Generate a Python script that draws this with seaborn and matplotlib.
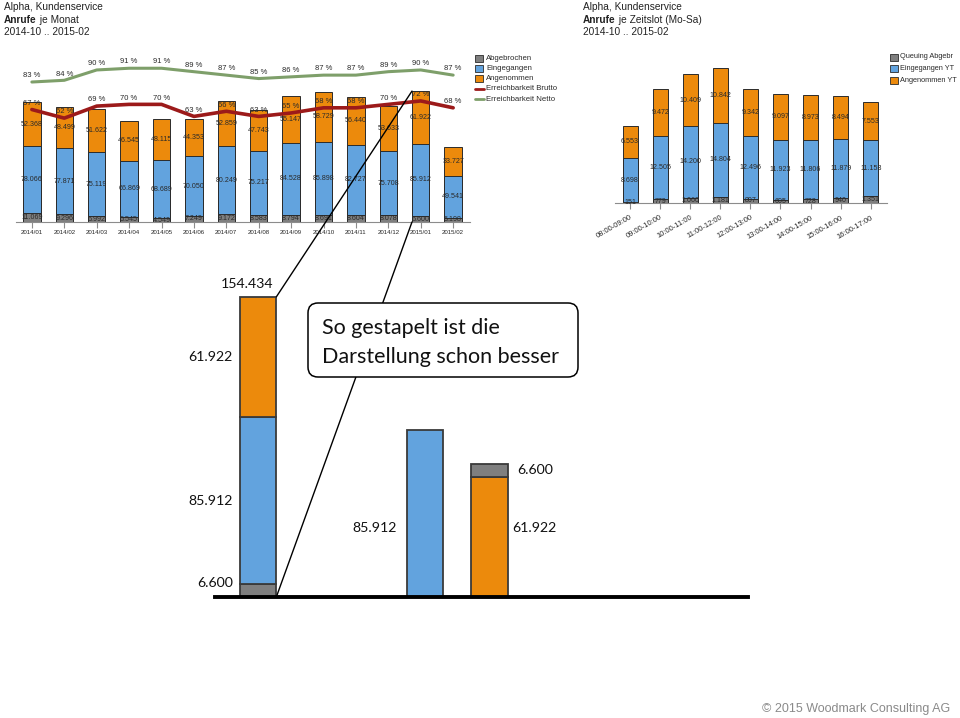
import numpy as np
import pandas as pd
import matplotlib
matplotlib.use("Agg")
from matplotlib import pyplot as plt
from matplotlib.patches import FancyBboxPatch, ConnectionPatch, Rectangle
from matplotlib.lines import Line2D
import seaborn as sns

# Anrufe je Monat (Werte in Tausend)
monate = ['2014/01', '2014/02', '2014/03', '2014/04', '2014/05', '2014/06', '2014/07',
          '2014/08', '2014/09', '2014/10', '2014/11', '2014/12', '2015/01', '2015/02']
abgebrochen = [11.069, 9.296, 6.992, 5.545, 4.549, 7.249, 9.172,
               8.583, 8.794, 8.691, 8.604, 8.078, 6.600, 5.198]
eingegangen = [78.066, 77.871, 75.119, 66.869, 68.689, 70.050, 80.249,
               75.217, 84.528, 85.898, 82.727, 75.708, 85.912, 49.541]
angenommen = [52.368, 48.499, 51.622, 46.545, 48.115, 44.353, 52.859,
              47.743, 55.147, 58.729, 56.440, 53.633, 61.922, 33.727]
brutto = [67, 62, 69, 70, 70, 63, 66, 63, 65, 68, 68, 70, 72, 68]
netto = [83, 84, 90, 91, 91, 89, 87, 85, 86, 87, 87, 89, 90, 87]

# Anrufe je Zeitslot (Mo-Sa)
zeitslots = ['08:00-09:00', '09:00-10:00', '10:00-11:00', '11:00-12:00', '12:00-13:00',
             '13:00-14:00', '14:00-15:00', '15:00-16:00', '16:00-17:00']
queuing = [0.151, 0.779, 1.060, 1.181, 0.807, 0.695, 0.728, 0.940, 1.351]
eingegangen_ytd = [8.698, 12.505, 14.200, 14.804, 12.496, 11.923, 11.806, 11.879, 11.153]
angenommen_ytd = [6.553, 9.472, 10.409, 10.842, 9.342, 9.097, 8.973, 8.494, 7.553]

detail_monat = '2015/01'

ORANGE = '#EC8A0C'
BLUE = '#62A3DE'
GRAY = '#7F7F7F'
EDGE = '#2B2B2B'
RED = '#9C1A1A'
GREEN = '#7E9F6A'
TXT = '#2A2A2A'

sns.set_style('white')
plt.rcParams['font.family'] = ['Liberation Sans', 'DejaVu Sans']

W, H = 960, 718
fig = plt.figure(figsize=(W / 100, H / 100), dpi=100)


def px_box(left, top, right, bottom):
    return [left / W, 1 - bottom / H, (right - left) / W, (bottom - top) / H]


def fmt(v):
    return f'{round(v * 1000):,}'.replace(',', '.')


def stacked(ax, cats, layers, colors, width):
    df = pd.DataFrame({'cat': cats})
    cum = np.cumsum(np.array(layers), axis=0)
    for i in range(len(layers) - 1, -1, -1):
        df['v'] = cum[i]
        sns.barplot(data=df, x='cat', y='v', color=colors[i], width=width,
                    saturation=1, edgecolor=EDGE, linewidth=0.7, errorbar=None, ax=ax)
    for i, layer in enumerate(layers):
        for j, v in enumerate(layer):
            ax.text(j, cum[i][j] - v / 2, fmt(v), ha='center', va='center',
                    fontsize=5.1, color=TXT)
    ax.set(xlabel='', ylabel='')
    sns.despine(ax=ax, left=True)
    ax.set_yticks([])
    ax.spines['bottom'].set_color('#8C8C8C')
    ax.tick_params(axis='x', bottom=True, length=4, color='#8C8C8C', pad=2)
    return cum


# overlay in pixel coordinates for titles, legends, callout
ov = fig.add_axes([0, 0, 1, 1], zorder=5)
ov.set_xlim(0, W)
ov.set_ylim(H, 0)
ov.axis('off')


def titles(x, second):
    ov.text(x, 7, 'Alpha, Kundenservice', fontsize=7.3, va='center', color='#222222')
    t = ov.text(x, 20, 'Anrufe', fontsize=7.3, va='center', weight='bold', color='#222222')
    ov.annotate(' ' + second, xy=(1, 0.5), xycoords=t, fontsize=7.3, va='center',
                color='#222222')
    ov.text(x, 32, '2014-10 .. 2015-02', fontsize=7.3, va='center', color='#222222')


# ---- top left: Anrufe je Monat ----
ax1 = fig.add_axes(px_box(16, 55, 470, 222))
cum1 = stacked(ax1, monate, [abgebrochen, eingegangen, angenommen], [GRAY, BLUE, ORANGE], 0.54)
ax1.set_ylim(0, 197)
ax1.tick_params(axis='x', labelsize=4.4)

ax2 = ax1.twinx()
xs = np.arange(len(monate))
sns.lineplot(x=xs, y=netto, color=GREEN, lw=2.2, ax=ax2)
sns.lineplot(x=xs, y=brutto, color=RED, lw=2.6, ax=ax2)
for series in (netto, brutto):
    for x, p in zip(xs, series):
        ax2.annotate(f'{p} %', (x, p), xytext=(0, 4.5), textcoords='offset points',
                     ha='center', va='center', fontsize=5.5, color=TXT)
ax2.set_ylim(1.63, 98.7)
ax2.axis('off')
ax1.set_xlim(-0.49, 13.52)
titles(4, 'je Monat')

# legend left
for k, (lab, col) in enumerate([('Abgebrochen', GRAY), ('Eingegangen', BLUE),
                                ('Angenommen', ORANGE)]):
    y = 58 + k * 10.3
    ov.add_patch(Rectangle((475, y - 3.5), 8, 7, fc=col, ec=EDGE, lw=0.6))
    ov.text(486, y, lab, fontsize=5.6, va='center', color=TXT)
for k, (lab, col) in enumerate([('Erreichbarkeit Brutto', RED),
                                ('Erreichbarkeit Netto', GREEN)]):
    y = 89 + k * 10.3
    ov.add_line(Line2D([475, 484], [y, y], color=col, lw=2))
    ov.text(486, y, lab, fontsize=5.6, va='center', color=TXT)

# ---- top right: Anrufe je Zeitslot ----
ax4 = fig.add_axes(px_box(615, 40, 887, 203))
stacked(ax4, zeitslots, [queuing, eingegangen_ytd, angenommen_ytd], [GRAY, BLUE, ORANGE], 0.5)
ax4.set_ylim(0, 32.4)
ax4.set_xlim(-0.5, 8.54)
ax4.set_xticks(range(len(zeitslots)))
ax4.set_xticklabels(zeitslots, rotation=30, ha='right', rotation_mode='anchor', fontsize=5.4)
ax4.tick_params(axis='x', pad=4)
titles(583, 'je Zeitslot (Mo-Sa)')

for k, (lab, col) in enumerate([('Queuing Abgebr', GRAY), ('Eingegangen YT', BLUE),
                                ('Angenommen YT', ORANGE)]):
    y = 57 + k * 11.5
    ov.add_patch(Rectangle((890, y - 3.5), 8, 7, fc=col, ec=EDGE, lw=0.6))
    ov.text(900, y, lab, fontsize=5.3, va='center', color=TXT)

# ---- bottom: detail illustration ----
idx = monate.index(detail_monat)
d_abg, d_ein, d_ang = abgebrochen[idx], eingegangen[idx], angenommen[idx]
d_total = d_abg + d_ein + d_ang

x_stack, x_ein, x_ang = 0, 2.6, 3.6
bw = 0.57
ax3 = fig.add_axes(px_box(215, 240, 748, 597))
ax3.bar(x_stack, d_abg, bw, color=GRAY, edgecolor='#3A3A3A', lw=1.3)
ax3.bar(x_stack, d_ein, bw, bottom=d_abg, color=BLUE, edgecolor='#3A3A3A', lw=1.3)
ax3.bar(x_stack, d_ang, bw, bottom=d_abg + d_ein, color=ORANGE, edgecolor='#3A3A3A', lw=1.3)
ax3.bar(x_ein, d_ein, bw, color=BLUE, edgecolor='#3A3A3A', lw=1.3)
ax3.bar(x_ang, d_ang, bw, color=ORANGE, edgecolor='#3A3A3A', lw=1.3)
ax3.bar(x_ang, d_abg, bw, bottom=d_ang, color=GRAY, edgecolor='#3A3A3A', lw=1.3)
ax3.set_xlim(-0.67, 7.63)
ax3.set_ylim(0, 183.7)
sns.despine(ax=ax3, left=True)
ax3.spines['bottom'].set_color('black')
ax3.spines['bottom'].set_linewidth(2.8)
ax3.set_xticks([])
ax3.set_yticks([])

lab_kw = dict(fontsize=10.2, family=['Lato', 'DejaVu Sans'], color='#111111')
ax3.annotate(fmt(d_total), (x_stack + bw / 2, d_total), xytext=(-2, 9),
             textcoords='offset points', ha='right', va='center', **lab_kw)
ax3.annotate(fmt(d_ang), (x_stack - bw / 2, d_abg + d_ein + d_ang / 2), xytext=(-5, 0),
             textcoords='offset points', ha='right', va='center', **lab_kw)
ax3.annotate(fmt(d_ein), (x_stack - bw / 2, d_abg + d_ein / 2), xytext=(-5, 0),
             textcoords='offset points', ha='right', va='center', **lab_kw)
ax3.annotate(fmt(d_abg), (x_stack - bw / 2, d_abg / 2), xytext=(-5, 1),
             textcoords='offset points', ha='right', va='bottom', **lab_kw)
ax3.annotate(fmt(d_ein), (x_ein - bw / 2, 0.193), xycoords=('data', 'axes fraction'),
             xytext=(-7, 0), textcoords='offset points', ha='right', va='center', **lab_kw)
ax3.annotate(fmt(d_ang), (x_ang + bw / 2, 0.193), xycoords=('data', 'axes fraction'),
             xytext=(3.6, 0), textcoords='offset points', ha='left', va='center', **lab_kw)
ax3.annotate(fmt(d_abg), (x_ang + bw / 2, d_ang + d_abg / 2), xytext=(7, 0),
             textcoords='offset points', ha='left', va='center', **lab_kw)

# connector lines from the 2015/01 bar to the detail bar
con1 = ConnectionPatch(xyA=(idx - 0.27, cum1[2][idx]), coordsA=ax1.transData,
                       xyB=(x_stack + bw / 2, d_total), coordsB=ax3.transData,
                       color='black', lw=1.0, zorder=3)
con2 = ConnectionPatch(xyA=(idx - 0.27, 0), coordsA=ax1.transData,
                       xyB=(x_stack + bw / 2, 0), coordsB=ax3.transData,
                       color='black', lw=1.0, zorder=3)
fig.add_artist(con1)
fig.add_artist(con2)

# callout
ov.add_patch(FancyBboxPatch((308, 303), 270, 74, boxstyle='round,pad=0,rounding_size=10',
                            fc='white', ec='black', lw=1.1, zorder=6))
ov.text(322, 334, 'So gestapelt ist die', fontsize=15.5, family=['Lato', 'DejaVu Sans'],
        va='baseline', color='#111111', zorder=7)
ov.text(322, 363, 'Darstellung schon besser', fontsize=15.5, family=['Lato', 'DejaVu Sans'],
        va='baseline', color='#111111', zorder=7)

ov.text(950, 709, '\u00a9 2015 Woodmark Consulting AG', fontsize=9, ha='right',
        va='center', color='#8A8A8A')

plt.savefig('out.png', dpi=100)
